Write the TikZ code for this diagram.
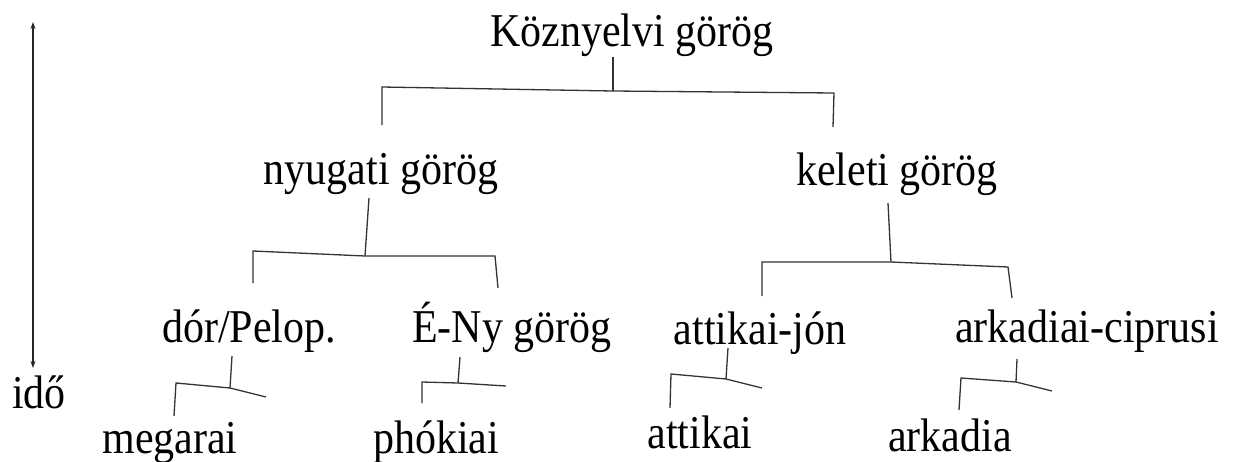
\documentclass[tikz,border=0pt]{standalone}
\usepackage{fontspec}
\usepackage{graphicx}
\setmainfont{Liberation Serif}
\usetikzlibrary{arrows.meta}
\newcommand{\tallt}[1]{\scalebox{1}[1.12]{#1}}
\tikzset{
  lbl/.style={inner sep=0pt, anchor=base, font=\fontsize{42}{50}\selectfont},
  brk/.style={draw=black!80, line width=1.3pt, line join=miter},
  timeaxis/.style={draw=black!85, line width=1.3pt, {Stealth[length=7pt,width=5pt]}-{Stealth[length=7pt,width=5pt]}}
}
\begin{document}
\begin{tikzpicture}[x=1pt,y=-1pt]
\useasboundingbox (0,0) rectangle (1235,461);
% labels
\node[lbl] (koz) at (632,46) {\tallt{Köznyelvi görög}};
\node[lbl] (nyu) at (381,184) {\tallt{nyugati görög}};
\node[lbl] (kel) at (897,185) {\tallt{keleti görög}};
\node[lbl] (dor) at (249,342) {\tallt{dór/Pelop.}};
\node[lbl] (eny) at (512,342) {\tallt{É-Ny görög}};
\node[lbl] (att) at (760,344) {\tallt{attikai-jón}};
\node[lbl] (ark) at (1087,342) {\tallt{arkadiai-ciprusi}};
\node[lbl] (meg) at (170,453) {\tallt{megarai}};
\node[lbl] (pho) at (436,453) {\tallt{phókiai}};
\node[lbl] (atk) at (700,448) {\tallt{attikai}};
\node[lbl] (arka) at (950,451) {\tallt{arkadia}};
\node[lbl] (ido) at (39,408) {\tallt{idő}};
% time axis
\coordinate (tTop) at (33,22);
\coordinate (tBot) at (33,368);
\draw[timeaxis] (tTop) -- (tBot);
% bracket: Koznyelvi
\coordinate (k0) at (613,57); \coordinate (k1) at (613,91);
\coordinate (kL) at (382,87); \coordinate (kLd) at (382,125);
\coordinate (kR) at (834,93); \coordinate (kRd) at (833,127);
\draw[brk] (k0) -- (k1);
\draw[brk] (kLd) -- (kL) -- (k1) -- (kR) -- (kRd);
% bracket: nyugati
\coordinate (n0) at (369,198); \coordinate (n1) at (365,256);
\coordinate (nL) at (253,251); \coordinate (nLd) at (253,283);
\coordinate (nR) at (495,256); \coordinate (nRd) at (498,288);
\draw[brk] (n0) -- (n1);
\draw[brk] (nLd) -- (nL) -- (n1) -- (nR) -- (nRd);
% bracket: keleti
\coordinate (e0) at (888,203); \coordinate (e1) at (891,262);
\coordinate (eL) at (762,262); \coordinate (eLd) at (762,296);
\coordinate (eR) at (1008,267); \coordinate (eRd) at (1012,298);
\draw[brk] (e0) -- (e1);
\draw[brk] (eLd) -- (eL) -- (e1) -- (eR) -- (eRd);
% bracket: dor
\coordinate (d0) at (232,356); \coordinate (d1) at (230,388);
\coordinate (dL) at (176,383); \coordinate (dLd) at (174,416);
\coordinate (dR) at (266,397);
\draw[brk] (d0) -- (d1);
\draw[brk] (dLd) -- (dL) -- (d1) -- (dR);
% bracket: E-Ny
\coordinate (y0) at (460,357); \coordinate (y1) at (458,383);
\coordinate (yL) at (422,382); \coordinate (yLd) at (422,403);
\coordinate (yR) at (506,386);
\draw[brk] (y0) -- (y1);
\draw[brk] (yLd) -- (yL) -- (y1) -- (yR);
% bracket: attikai-jon
\coordinate (a0) at (728,348); \coordinate (a1) at (726,379);
\coordinate (aL) at (671,374); \coordinate (aLd) at (670,408);
\coordinate (aR) at (762,388);
\draw[brk] (a0) -- (a1);
\draw[brk] (aLd) -- (aL) -- (a1) -- (aR);
% bracket: arkadiai-ciprusi
\coordinate (r0) at (1017,359); \coordinate (r1) at (1016,382);
\coordinate (rL) at (961,378); \coordinate (rLd) at (959,410);
\coordinate (rR) at (1052,391);
\draw[brk] (r0) -- (r1);
\draw[brk] (rLd) -- (rL) -- (r1) -- (rR);
\end{tikzpicture}
\end{document}
